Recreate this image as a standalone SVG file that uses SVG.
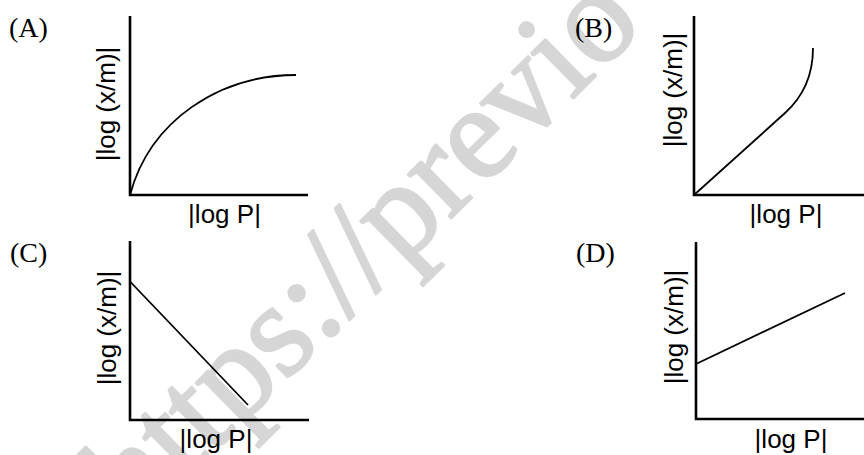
<svg xmlns="http://www.w3.org/2000/svg" width="864" height="455" viewBox="0 0 864 455">
  <style>
    .axis { stroke:#000; stroke-width:2.6; fill:none; }
    .plot { stroke:#000; stroke-width:1.8; fill:none; }
    .lab { font-family:"Liberation Serif","Times New Roman",serif; font-size:28px; fill:#000; }
    .ax { font-family:"Liberation Sans",Arial,sans-serif; font-size:26px; fill:#000; }
    .wm { font-family:"Liberation Serif","Times New Roman",serif; font-size:134px; fill:#d6d6d6; stroke:#d6d6d6; stroke-width:2.5; stroke-linejoin:round; }
  </style>
  <rect width="864" height="455" fill="#fff"/>
  <text class="wm" transform="translate(136,528) rotate(-44.5)">https://previo</text>

  <g id="panel-A">
    <text class="lab" x="9" y="37">(A)</text>
    <path class="axis" d="M130,16 V195 H308"/>
    <path class="plot" d="M130,195 C150,120 220,75 296,75"/>
    <text class="ax" text-anchor="middle" transform="translate(115,104) rotate(-90)">|log (x/m)|</text>
    <text class="ax" text-anchor="middle" x="224.5" y="223">|log P|</text>
  </g>

  <g id="panel-B">
    <text class="lab" x="575" y="37">(B)</text>
    <path class="axis" d="M694,16 V195 H864"/>
    <path class="plot" d="M694,195 L785,113 C800,99.5 813,80 813,48"/>
    <text class="ax" text-anchor="middle" transform="translate(682,90) rotate(-90)">|log (x/m)|</text>
    <text class="ax" text-anchor="middle" x="786" y="223">|log P|</text>
  </g>

  <g id="panel-C">
    <text class="lab" x="10" y="262">(C)</text>
    <path class="axis" d="M130,241 V420 H309"/>
    <path class="plot" d="M130.5,282 L248,405"/>
    <text class="ax" text-anchor="middle" transform="translate(116,328) rotate(-90)">|log (x/m)|</text>
    <text class="ax" text-anchor="middle" x="216" y="448">|log P|</text>
  </g>

  <g id="panel-D">
    <text class="lab" x="576" y="262">(D)</text>
    <path class="axis" d="M696,242 V419 H864"/>
    <path class="plot" d="M696,364 L845,293"/>
    <text class="ax" text-anchor="middle" transform="translate(683,327) rotate(-90)">|log (x/m)|</text>
    <text class="ax" text-anchor="middle" x="791" y="448">|log P|</text>
  </g>
</svg>
